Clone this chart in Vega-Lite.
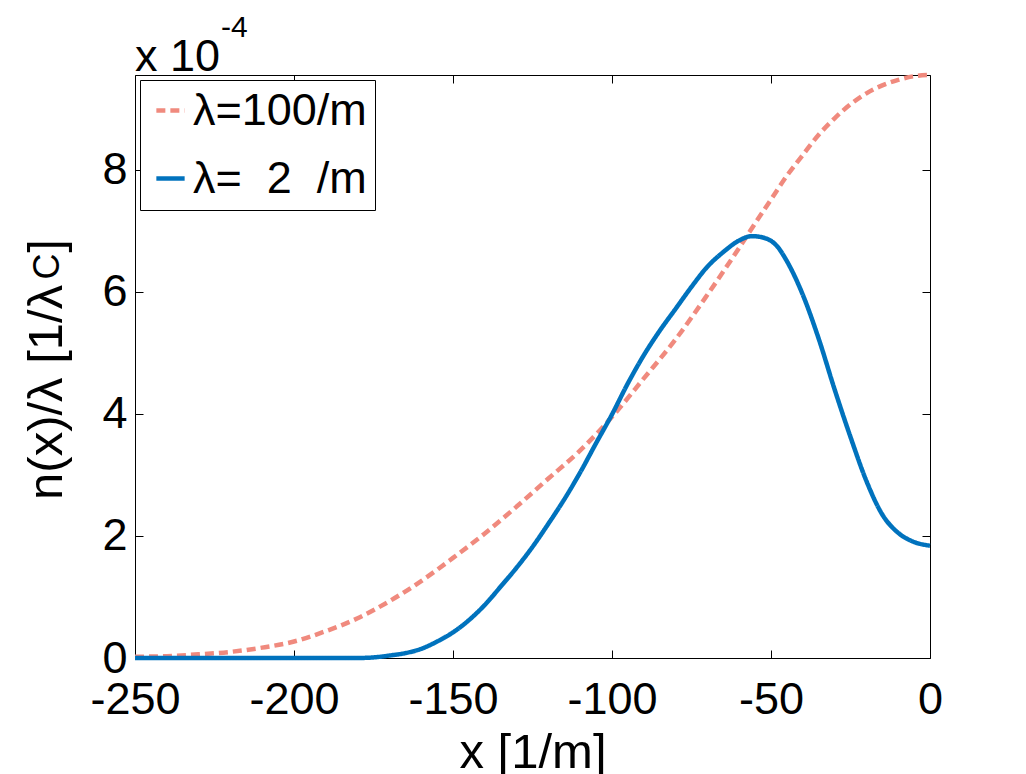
{
  "$schema": "https://vega.github.io/schema/vega-lite/v6.json",
  "width": 795,
  "height": 583,
  "autosize": "none",
  "padding": {"left": 135, "top": 75, "right": 96, "bottom": 116},
  "background": "white",
  "config": {
    "view": {"stroke": "black", "strokeWidth": 1},
    "font": "Liberation Sans",
    "axis": {
      "grid": false,
      "domain": false,
      "tickColor": "black",
      "tickSize": -8,
      "tickWidth": 1,
      "labelFont": "Liberation Sans",
      "labelFontSize": 45,
      "labelColor": "black",
      "labelFlush": false,
      "labelOverlap": false,
      "labelExpr": "'' + datum.value"
    },
    "text": {"font": "Liberation Sans", "color": "black"}
  },
  "data": {
    "values": [
      {"series": "λ=100/m", "x": -250, "n": 0.02},
      {"series": "λ=100/m", "x": -240, "n": 0.03},
      {"series": "λ=100/m", "x": -230, "n": 0.06},
      {"series": "λ=100/m", "x": -220, "n": 0.1},
      {"series": "λ=100/m", "x": -210, "n": 0.17},
      {"series": "λ=100/m", "x": -200, "n": 0.27},
      {"series": "λ=100/m", "x": -190, "n": 0.44},
      {"series": "λ=100/m", "x": -180, "n": 0.65},
      {"series": "λ=100/m", "x": -170, "n": 0.93},
      {"series": "λ=100/m", "x": -160, "n": 1.26},
      {"series": "λ=100/m", "x": -150, "n": 1.64},
      {"series": "λ=100/m", "x": -140, "n": 2.04},
      {"series": "λ=100/m", "x": -130, "n": 2.48},
      {"series": "λ=100/m", "x": -120, "n": 2.94},
      {"series": "λ=100/m", "x": -110, "n": 3.4},
      {"series": "λ=100/m", "x": -100, "n": 3.95},
      {"series": "λ=100/m", "x": -90, "n": 4.58},
      {"series": "λ=100/m", "x": -80, "n": 5.22},
      {"series": "λ=100/m", "x": -70, "n": 5.95},
      {"series": "λ=100/m", "x": -65, "n": 6.33},
      {"series": "λ=100/m", "x": -60, "n": 6.72},
      {"series": "λ=100/m", "x": -55, "n": 7.12},
      {"series": "λ=100/m", "x": -50, "n": 7.51},
      {"series": "λ=100/m", "x": -45, "n": 7.9},
      {"series": "λ=100/m", "x": -40, "n": 8.24},
      {"series": "λ=100/m", "x": -35, "n": 8.57},
      {"series": "λ=100/m", "x": -30, "n": 8.84},
      {"series": "λ=100/m", "x": -25, "n": 9.07},
      {"series": "λ=100/m", "x": -20, "n": 9.25},
      {"series": "λ=100/m", "x": -15, "n": 9.38},
      {"series": "λ=100/m", "x": -10, "n": 9.47},
      {"series": "λ=100/m", "x": -5, "n": 9.53},
      {"series": "λ=100/m", "x": 0, "n": 9.55},
      {"series": "λ=\u00a0\u00a02\u00a0\u00a0/m", "x": -250, "n": 0},
      {"series": "λ=\u00a0\u00a02\u00a0\u00a0/m", "x": -220, "n": 0},
      {"series": "λ=\u00a0\u00a02\u00a0\u00a0/m", "x": -190, "n": 0},
      {"series": "λ=\u00a0\u00a02\u00a0\u00a0/m", "x": -180, "n": 0.0},
      {"series": "λ=\u00a0\u00a02\u00a0\u00a0/m", "x": -175, "n": 0.01},
      {"series": "λ=\u00a0\u00a02\u00a0\u00a0/m", "x": -170, "n": 0.04},
      {"series": "λ=\u00a0\u00a02\u00a0\u00a0/m", "x": -165, "n": 0.08},
      {"series": "λ=\u00a0\u00a02\u00a0\u00a0/m", "x": -160, "n": 0.15},
      {"series": "λ=\u00a0\u00a02\u00a0\u00a0/m", "x": -155, "n": 0.27},
      {"series": "λ=\u00a0\u00a02\u00a0\u00a0/m", "x": -150, "n": 0.42},
      {"series": "λ=\u00a0\u00a02\u00a0\u00a0/m", "x": -145, "n": 0.62},
      {"series": "λ=\u00a0\u00a02\u00a0\u00a0/m", "x": -140, "n": 0.87},
      {"series": "λ=\u00a0\u00a02\u00a0\u00a0/m", "x": -135, "n": 1.17},
      {"series": "λ=\u00a0\u00a02\u00a0\u00a0/m", "x": -130, "n": 1.48},
      {"series": "λ=\u00a0\u00a02\u00a0\u00a0/m", "x": -125, "n": 1.82},
      {"series": "λ=\u00a0\u00a02\u00a0\u00a0/m", "x": -120, "n": 2.2},
      {"series": "λ=\u00a0\u00a02\u00a0\u00a0/m", "x": -115, "n": 2.6},
      {"series": "λ=\u00a0\u00a02\u00a0\u00a0/m", "x": -110, "n": 3.04},
      {"series": "λ=\u00a0\u00a02\u00a0\u00a0/m", "x": -105, "n": 3.52},
      {"series": "λ=\u00a0\u00a02\u00a0\u00a0/m", "x": -100, "n": 3.99},
      {"series": "λ=\u00a0\u00a02\u00a0\u00a0/m", "x": -95, "n": 4.5},
      {"series": "λ=\u00a0\u00a02\u00a0\u00a0/m", "x": -90, "n": 4.96},
      {"series": "λ=\u00a0\u00a02\u00a0\u00a0/m", "x": -85, "n": 5.36},
      {"series": "λ=\u00a0\u00a02\u00a0\u00a0/m", "x": -80, "n": 5.72},
      {"series": "λ=\u00a0\u00a02\u00a0\u00a0/m", "x": -75, "n": 6.08},
      {"series": "λ=\u00a0\u00a02\u00a0\u00a0/m", "x": -70, "n": 6.41},
      {"series": "λ=\u00a0\u00a02\u00a0\u00a0/m", "x": -65, "n": 6.65},
      {"series": "λ=\u00a0\u00a02\u00a0\u00a0/m", "x": -60, "n": 6.84},
      {"series": "λ=\u00a0\u00a02\u00a0\u00a0/m", "x": -56, "n": 6.91},
      {"series": "λ=\u00a0\u00a02\u00a0\u00a0/m", "x": -52, "n": 6.88},
      {"series": "λ=\u00a0\u00a02\u00a0\u00a0/m", "x": -48, "n": 6.74},
      {"series": "λ=\u00a0\u00a02\u00a0\u00a0/m", "x": -45, "n": 6.5},
      {"series": "λ=\u00a0\u00a02\u00a0\u00a0/m", "x": -40, "n": 5.95},
      {"series": "λ=\u00a0\u00a02\u00a0\u00a0/m", "x": -35, "n": 5.23},
      {"series": "λ=\u00a0\u00a02\u00a0\u00a0/m", "x": -30, "n": 4.4},
      {"series": "λ=\u00a0\u00a02\u00a0\u00a0/m", "x": -25, "n": 3.62},
      {"series": "λ=\u00a0\u00a02\u00a0\u00a0/m", "x": -20, "n": 2.9},
      {"series": "λ=\u00a0\u00a02\u00a0\u00a0/m", "x": -15, "n": 2.35},
      {"series": "λ=\u00a0\u00a02\u00a0\u00a0/m", "x": -10, "n": 2.05},
      {"series": "λ=\u00a0\u00a02\u00a0\u00a0/m", "x": -5, "n": 1.9},
      {"series": "λ=\u00a0\u00a02\u00a0\u00a0/m", "x": 0, "n": 1.84}
    ]
  },
  "layer": [
    {
      "mark": {"type": "line", "strokeWidth": 4.5, "strokeCap": "butt", "interpolate": "monotone"},
      "encoding": {
        "x": {
          "field": "x",
          "type": "quantitative",
          "scale": {"domain": [-250, 0], "nice": false},
          "axis": {
            "orient": "bottom",
            "values": [-250, -200, -150, -100, -50, 0],
            "labelPadding": 27,
            "title": "x [1/m]",
            "titleFont": "Liberation Sans",
            "titleFontSize": 49,
            "titleFontWeight": "normal",
            "titleColor": "black",
            "titleBaseline": "alphabetic",
            "titleY": 109
          }
        },
        "y": {
          "field": "n",
          "type": "quantitative",
          "scale": {"domain": [0, 9.55], "nice": false, "zero": false},
          "axis": {
            "orient": "left",
            "values": [0, 2, 4, 6, 8],
            "labelPadding": 16,
            "title": null
          }
        },
        "color": {
          "field": "series",
          "type": "nominal",
          "scale": {"domain": ["λ=100/m", "λ=\u00a0\u00a02\u00a0\u00a0/m"], "range": ["#f08a7e", "#0072bd"]},
          "legend": {
            "title": null,
            "orient": "top-left",
            "offset": 5,
            "strokeColor": "black",
            "fillColor": "white",
            "padding": 8,
            "symbolType": "stroke",
            "symbolStrokeWidth": 4.5,
            "symbolSize": 800,
            "labelFont": "Liberation Sans",
            "labelFontSize": 45,
            "labelColor": "black",
            "labelLimit": 400,
            "labelOffset": 0,
            "rowPadding": 22
          }
        },
        "strokeDash": {
          "field": "series",
          "type": "nominal",
          "scale": {"domain": ["λ=100/m", "λ=\u00a0\u00a02\u00a0\u00a0/m"], "range": [[9, 5], [1, 0]]},
          "legend": {
            "title": null,
            "orient": "top-left",
            "offset": 5,
            "strokeColor": "black",
            "fillColor": "white",
            "padding": 8,
            "symbolType": "stroke",
            "symbolStrokeWidth": 4.5,
            "symbolSize": 800,
            "labelFont": "Liberation Sans",
            "labelFontSize": 45,
            "labelColor": "black",
            "labelLimit": 400,
            "labelOffset": 0,
            "rowPadding": 22
          }
        }
      }
    },
    {
      "mark": {"type": "line", "opacity": 0},
      "encoding": {
        "x": {
          "field": "x",
          "type": "quantitative",
          "axis": {"orient": "top", "values": [-250, -200, -150, -100, -50, 0], "labels": false, "title": null}
        },
        "y": {
          "field": "n",
          "type": "quantitative",
          "axis": {"orient": "right", "values": [0, 2, 4, 6, 8], "labels": false, "title": null}
        },
        "detail": {"field": "series"}
      }
    },
    {
      "data": {"values": [{}]},
      "mark": {"type": "text", "text": "x 10", "fontSize": 45, "align": "left", "baseline": "alphabetic", "dy": -4},
      "encoding": {
        "x": {"datum": -250, "type": "quantitative", "axis": null},
        "y": {"datum": 9.55, "type": "quantitative", "axis": null}
      }
    },
    {
      "data": {"values": [{}]},
      "mark": {"type": "text", "text": "-4", "fontSize": 30, "align": "left", "baseline": "alphabetic", "dx": 86, "dy": -38},
      "encoding": {
        "x": {"datum": -250, "type": "quantitative", "axis": null},
        "y": {"datum": 9.55, "type": "quantitative", "axis": null}
      }
    },
    {
      "data": {"values": [{}]},
      "mark": {"type": "text", "text": "n(x)/λ [1/λ", "fontSize": 49, "angle": 270, "align": "left", "baseline": "alphabetic", "dy": -73},
      "encoding": {
        "x": {"datum": -250, "type": "quantitative", "axis": null},
        "y": {"datum": 2.59, "type": "quantitative", "axis": null}
      }
    },
    {
      "data": {"values": [{}]},
      "mark": {"type": "text", "text": "C", "fontSize": 36, "angle": 270, "align": "left", "baseline": "alphabetic", "dy": -76},
      "encoding": {
        "x": {"datum": -250, "type": "quantitative", "axis": null},
        "y": {"datum": 6.2, "type": "quantitative", "axis": null}
      }
    },
    {
      "data": {"values": [{}]},
      "mark": {"type": "text", "text": "]", "fontSize": 49, "angle": 270, "align": "left", "baseline": "alphabetic", "dy": -73},
      "encoding": {
        "x": {"datum": -250, "type": "quantitative", "axis": null},
        "y": {"datum": 6.64, "type": "quantitative", "axis": null}
      }
    }
  ],
  "resolve": {"axis": {"x": "independent", "y": "independent"}}
}
